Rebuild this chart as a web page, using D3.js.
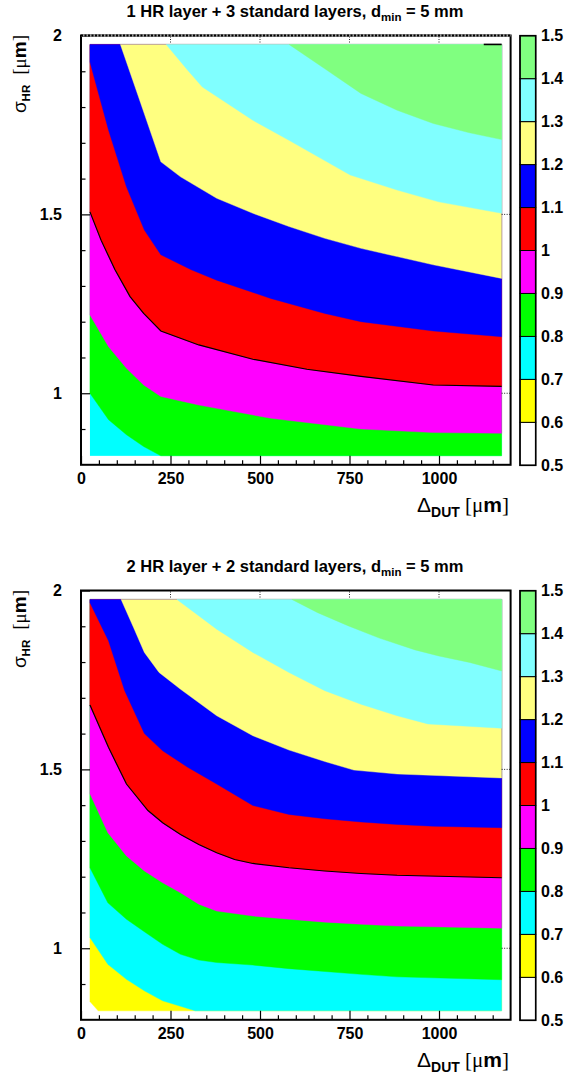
<!DOCTYPE html>
<html><head><meta charset="utf-8">
<script src="https://cdn.jsdelivr.net/npm/d3@7"></script>
<style>
body{margin:0;background:#fff;}
svg{display:block;}
text{font-family:"Liberation Sans",Arial,sans-serif;fill:#000;}
</style></head><body>
<svg id="chart" width="566" height="1079"></svg>
<script>
// ---------------- data ----------------
const xTickValues = [0, 250, 500, 750, 1000];
const xMinorTickValues = [50,100,150,200,300,350,400,450,550,600,650,700,800,850,900,950,1050,1100,1150];
const yTickValues = [1, 1.5, 2];
const yMinorTickValues = [0.9,1.1,1.2,1.3,1.4,1.6,1.7,1.8,1.9];
const levels = [0.5,0.6,0.7,0.8,0.9,1.0,1.1,1.2,1.3,1.4,1.5];
const levelLabels = ["0.5","0.6","0.7","0.8","0.9","1","1.1","1.2","1.3","1.4","1.5"];
const bandColors = ["#ffffff","#ffff00","#00ffff","#00ff00","#ff00ff","#ff0000","#0000ff","#ffff80","#80ffff","#80ff80"];
const panelTitles = ["1 HR layer + 3 standard layers, d", "2 HR layer + 2 standard layers, d"];

// contour lines (x = Delta_DUT [um], y = sigma_HR [um])
// panel 1 : 1 HR layer + 3 standard layers
const p1Level08 = [[25,1.0],[77,0.926],[127,0.884],[175,0.851],[223,0.825]];
const p1Level09 = [[25,1.219],[77,1.130],[127,1.070],[175,1.023],[223,0.991],[329,0.967],[530,0.930],[782,0.900],[984,0.890],[1175,0.888]];
const p1Level10 = [[25,1.507],[56,1.428],[95,1.345],[137,1.270],[175,1.223],[223,1.174],[329,1.135],[480,1.095],[631,1.067],[782,1.047],[984,1.023],[1175,1.019]];
const p1Level11 = [[25,1.926],[77,1.735],[127,1.577],[177,1.456],[223,1.387],[308,1.345],[379,1.316],[530,1.265],[681,1.223],[782,1.200],[984,1.174],[1175,1.158]];
const p1Level12 = [[110,1.975],[167,1.810],[223,1.647],[278,1.605],[379,1.545],[480,1.503],[581,1.466],[681,1.433],[782,1.405],[883,1.382],[984,1.359],[1175,1.321]];
const p1Level13 = [[238,1.975],[298,1.903],[339,1.856],[480,1.763],[581,1.707],[752,1.610],[883,1.568],[999,1.535],[1175,1.503]];
const p1Level14 = [[581,1.975],[681,1.907],[782,1.838],[883,1.791],[984,1.754],[1085,1.728],[1175,1.709]];
const p1TopMark = [[1125,1.975],[1175,1.975]];

// panel 2 : 2 HR layer + 2 standard layers
const p2Level06 = [[25,0.851],[48,0.825]];
const p2Level07 = [[25,1.030],[75,0.955],[127,0.913],[177,0.881],[228,0.853],[319,0.825]];
const p2Level08 = [[25,1.225],[75,1.127],[127,1.081],[177,1.046],[228,1.011],[278,0.983],[329,0.967],[379,0.960],[480,0.953],[581,0.943],[681,0.935],[782,0.927],[883,0.920],[1175,0.912]];
const p2Level09 = [[25,1.432],[75,1.323],[127,1.258],[177,1.216],[228,1.183],[278,1.155],[329,1.123],[379,1.104],[480,1.090],[581,1.081],[681,1.073],[782,1.067],[883,1.062],[1175,1.056]];
const p2Level10 = [[25,1.680],[77,1.561],[127,1.459],[187,1.385],[228,1.351],[278,1.318],[329,1.290],[379,1.267],[429,1.248],[480,1.237],[581,1.225],[681,1.216],[782,1.209],[883,1.204],[1175,1.197]];
const p2Level11 = [[25,1.966],[77,1.859],[122,1.720],[177,1.600],[228,1.552],[298,1.506],[379,1.459],[480,1.399],[581,1.374],[681,1.362],[782,1.353],[883,1.346],[984,1.341],[1175,1.337]];
const p2Level12 = [[112,1.975],[147,1.896],[177,1.827],[218,1.771],[278,1.724],[379,1.650],[480,1.594],[581,1.554],[681,1.522],[762,1.498],[883,1.487],[1175,1.476]];
const p2Level13 = [[268,1.975],[379,1.892],[480,1.827],[581,1.771],[681,1.720],[782,1.682],[883,1.650],[969,1.627],[1175,1.615]];
const p2Level14 = [[589,1.975],[661,1.938],[747,1.901],[833,1.867],[933,1.834],[999,1.817],[1085,1.799],[1175,1.775]];

const dataXRange = [25, 1175];
const dataYRange = [0.825, 1.975];

const panels = [
  {title: panelTitles[0], base: 0.7, contours: [[0.8,p1Level08],[0.9,p1Level09],[1.0,p1Level10],[1.1,p1Level11],[1.2,p1Level12],[1.3,p1Level13],[1.4,p1Level14]], mark: p1TopMark, dashedTop: true},
  {title: panelTitles[1], base: 0.5, contours: [[0.6,p2Level06],[0.7,p2Level07],[0.8,p2Level08],[0.9,p2Level09],[1.0,p2Level10],[1.1,p2Level11],[1.2,p2Level12],[1.3,p2Level13],[1.4,p2Level14]], mark: null, dashedTop: false}
];

// ---------------- drawing ----------------
const svg = d3.select("#chart");
const x = d3.scaleLinear().domain([0, 1200]).range([81, 510.6]);
const y = d3.scaleLinear().domain([0.8, 2.0]).range([464.8, 35.5]);
const pal = d3.scaleLinear().domain([0.5, 1.5]).range([465.3, 35.7]);
const bandIndex = L => Math.round((L - 0.5) / 0.1);
const eps = 1e-6;

panels.forEach((p, pi) => {
  const g = svg.append("g").attr("transform", `translate(0,${pi * 555})`);

  // title
  const t = g.append("text").attr("x", 295).attr("y", 16.7)
    .attr("text-anchor", "middle").attr("font-weight", "bold").attr("font-size", 16.5);
  t.append("tspan").text(p.title);
  t.append("tspan").attr("font-size", 11.5).attr("dy", 4).text("min");
  t.append("tspan").attr("dy", -4).text(" = 5 mm");

  // base fill
  const [x0, x1] = dataXRange, [y0, y1] = dataYRange;
  g.append("rect")
    .attr("x", x(x0)).attr("y", y(y1))
    .attr("width", x(x1) - x(x0)).attr("height", y(y0) - y(y1))
    .attr("fill", bandColors[bandIndex(p.base)]);

  const line = d3.line().x(d => x(d[0])).y(d => y(d[1]));

  p.contours.forEach(([L, c]) => {
    const poly = c.slice();
    const first = c[0], last = c[c.length - 1];
    if (last[1] <= y0 + eps) poly.push([x1, y0]);
    poly.push([x1, y1]);
    if (first[0] <= x0 + eps) poly.push([x0, y1]);
    g.append("path").attr("d", line(poly) + "Z")
      .attr("fill", bandColors[bandIndex(L)])
      .attr("stroke", bandColors[bandIndex(L)]).attr("stroke-width", 0.4);
  });
  // black contour at level 1
  p.contours.filter(([L]) => Math.abs(L - 1.0) < eps).forEach(([L, c]) => {
    g.append("path").attr("d", line(c)).attr("fill", "none")
      .attr("stroke", "#000").attr("stroke-width", 1.2);
  });
  if (p.mark) {
    g.append("path").attr("d", line(p.mark)).attr("fill", "none")
      .attr("stroke", "#000").attr("stroke-width", 1.6);
  }

  // dotted grid stubs
  const dots = g.append("g").attr("stroke", "#222").attr("stroke-width", 1).attr("stroke-dasharray", "1,1.5");
  xTickValues.filter(v => v > 0).forEach(v => {
    dots.append("line").attr("x1", x(v)).attr("x2", x(v)).attr("y1", y(2.0) + 1).attr("y2", y(2.0) + 7);
  });
  [1.0, 1.5].forEach(v => {
    dots.append("line").attr("x1", x(1175)).attr("x2", x(1200)).attr("y1", y(v)).attr("y2", y(v));
  });

  // axes
  const xAxisG = g.append("g").attr("transform", `translate(0,${y(0.8)})`);
  xAxisG.call(d3.axisBottom(x).tickValues(xTickValues).tickSize(-9).tickPadding(8).tickFormat(d3.format("d")));
  const xMinorG = g.append("g").attr("transform", `translate(0,${y(0.8)})`);
  xMinorG.call(d3.axisBottom(x).tickValues(xMinorTickValues).tickSize(-4.5).tickFormat(""));
  const yAxisG = g.append("g").attr("transform", `translate(${x(0)},0)`);
  yAxisG.call(d3.axisLeft(y).tickValues(yTickValues).tickSize(-9).tickPadding(19).tickFormat(d => d3.format("")(d)));
  const yMinorG = g.append("g").attr("transform", `translate(${x(0)},0)`);
  yMinorG.call(d3.axisLeft(y).tickValues(yMinorTickValues).tickSize(-4.5).tickFormat(""));
  [xAxisG, xMinorG, yAxisG, yMinorG].forEach(a => {
    a.select(".domain").remove();
    a.selectAll(".tick line").attr("stroke", "#000").attr("stroke-width", 1.2);
    a.selectAll("text").attr("font-family", "Liberation Sans, Arial, sans-serif")
      .attr("font-weight", "bold").attr("font-size", 16).attr("fill", "#000");
  });

  // frame
  g.append("rect").attr("x", x(0)).attr("y", y(2.0))
    .attr("width", x(1200) - x(0)).attr("height", y(0.8) - y(2.0))
    .attr("fill", "none").attr("stroke", "#000").attr("stroke-width", 2);
  if (p.dashedTop) {
    g.append("line").attr("x1", x(0)).attr("x2", x(1200)).attr("y1", y(2.0)).attr("y2", y(2.0))
      .attr("stroke", "#999").attr("stroke-width", 2.2);
    g.append("line").attr("x1", x(0)).attr("x2", x(1200)).attr("y1", y(2.0)).attr("y2", y(2.0))
      .attr("stroke", "#000").attr("stroke-width", 2.2).attr("stroke-dasharray", "2,1.5");
  }

  // axis titles
  const xt = g.append("text").attr("x", 509).attr("y", 512).attr("text-anchor", "end").attr("font-size", 21);
  xt.append("tspan").text("Δ");
  xt.append("tspan").attr("font-size", 14).attr("font-weight", "bold").attr("dy", 5).text("DUT");
  xt.append("tspan").attr("dy", -5).attr("font-family", "Liberation Serif, serif").text(" [μ");
  xt.append("tspan").attr("font-weight", "bold").text("m");
  xt.append("tspan").attr("font-family", "Liberation Serif, serif").text("]");

  const yt = g.append("text").attr("transform", "translate(26,35) rotate(-90)")
    .attr("text-anchor", "end").attr("font-size", 19);
  yt.append("tspan").text("σ");
  yt.append("tspan").attr("font-size", 11.5).attr("font-weight", "bold").attr("dy", 4).text("HR");
  yt.append("tspan").attr("dy", -4).attr("dx", 10).attr("font-family", "Liberation Serif, serif").text("[μ");
  yt.append("tspan").attr("font-weight", "bold").text("m");
  yt.append("tspan").attr("font-family", "Liberation Serif, serif").text("]");

  // palette
  const pg = g.append("g");
  for (let i = 0; i < levels.length - 1; i++) {
    pg.append("rect").attr("x", 520).attr("y", pal(levels[i + 1]))
      .attr("width", 15.7).attr("height", pal(levels[i]) - pal(levels[i + 1]))
      .attr("fill", bandColors[i]).attr("stroke", "#000").attr("stroke-width", 1);
  }
  pg.append("rect").attr("x", 520).attr("y", pal(1.5)).attr("width", 15.7)
    .attr("height", pal(0.5) - pal(1.5)).attr("fill", "none").attr("stroke", "#000").attr("stroke-width", 1.6);
  levels.forEach((L, i) => {
    pg.append("text").attr("x", 541).attr("y", pal(L))
      .attr("dy", "0.36em").attr("font-weight", "bold").attr("font-size", 16).text(levelLabels[i]);
  });
});
</script>
</body></html>
